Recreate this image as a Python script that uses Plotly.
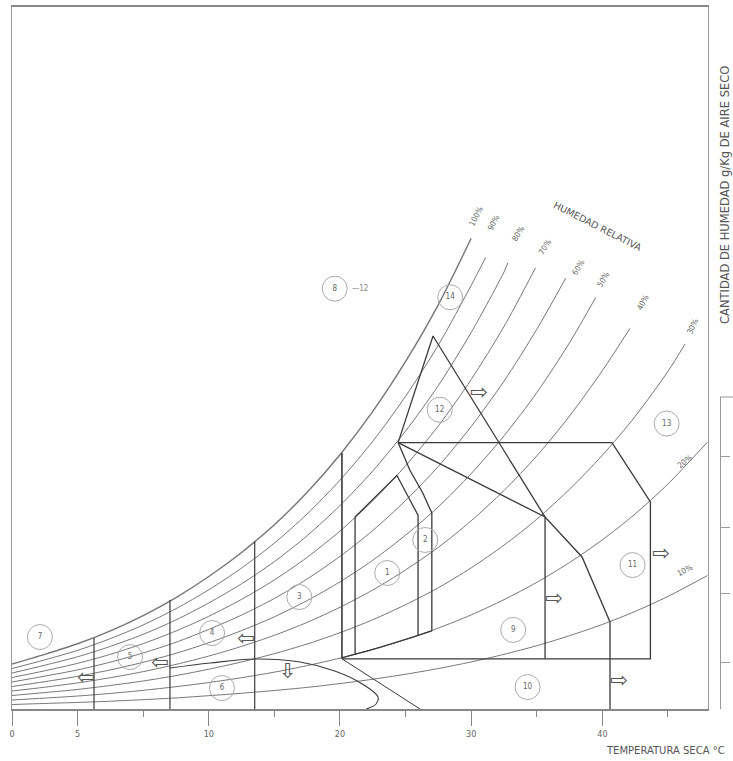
import plotly.graph_objects as go

# ---------------- data ----------------
T_GRID = [-5, -2.5, 0, 2.5, 5, 7.5, 10, 12.5, 15, 17.5, 20, 22.5, 25, 27.5,
          30, 32.5, 35, 37.5, 40, 42.5, 45, 48]

W_RH100 = [2.60, 3.16, 3.77, 4.52, 5.40, 6.44, 7.66, 9.05, 10.65, 12.53, 14.70, 17.20, 20.09, 23.38, 27.21]
W_RH90 = [2.34, 2.84, 3.39, 4.07, 4.86, 5.80, 6.89, 8.15, 9.59, 11.28, 13.23, 15.48, 18.08, 21.04, 24.49, 26.10]
W_RH80 = [2.08, 2.53, 3.02, 3.62, 4.32, 5.15, 6.13, 7.24, 8.52, 10.02, 11.76, 13.76, 16.07, 18.70, 21.77, 25.26, 25.80]
W_RH70 = [1.82, 2.21, 2.64, 3.16, 3.78, 4.51, 5.36, 6.34, 7.46, 8.77, 10.29, 12.04, 14.06, 16.37, 19.05, 22.11, 25.50]
W_RH60 = [1.56, 1.90, 2.26, 2.71, 3.24, 3.86, 4.60, 5.43, 6.39, 7.52, 8.82, 10.32, 12.05, 14.03, 16.33, 18.95, 21.95, 24.90]
W_RH50 = [1.30, 1.58, 1.89, 2.26, 2.70, 3.22, 3.83, 4.53, 5.33, 6.27, 7.35, 8.60, 10.05, 11.69, 13.61, 15.79, 18.29, 21.18, 23.80]
W_RH40 = [1.04, 1.26, 1.51, 1.81, 2.16, 2.58, 3.06, 3.62, 4.26, 5.01, 5.88, 6.88, 8.04, 9.35, 10.88, 12.63, 14.63, 16.94, 19.56, 22.00]
W_RH30 = [0.78, 0.95, 1.13, 1.36, 1.62, 1.93, 2.30, 2.72, 3.20, 3.76, 4.41, 5.16, 6.03, 7.01, 8.16, 9.47, 10.97, 12.71, 14.67, 16.92, 19.52, 21.10]
W_RH20 = [0.52, 0.63, 0.75, 0.90, 1.08, 1.29, 1.53, 1.81, 2.13, 2.51, 2.94, 3.44, 4.02, 4.68, 5.44, 6.32, 7.32, 8.47, 9.78, 11.28, 13.01, 15.42]
W_RH10 = [0.26, 0.32, 0.38, 0.45, 0.54, 0.64, 0.77, 0.91, 1.07, 1.25, 1.47, 1.72, 2.01, 2.34, 2.72, 3.16, 3.66, 4.24, 4.89, 5.64, 6.51, 7.71]
# temperature where each curve stops at the top
T_END = {"90%": 31.1, "80%": 32.8, "70%": 34.9, "60%": 37.2, "50%": 39.5, "40%": 42.1, "30%": 46.3}

RH_LABELS = ["100%", "90%", "80%", "70%", "60%", "50%", "40%", "30%", "20%", "10%"]
RH_LABEL_T = [30.44, 31.75, 33.6, 35.6, 38.2, 40.1, 43.1, 46.9, 46.3, 46.3]
RH_LABEL_W = [28.5, 28.1, 27.5, 26.7, 25.5, 24.8, 23.5, 22.1, 14.3, 8.0]
RH_LABEL_ANGLE = [-63, -62, -60, -58, -59, -60, -62, -65, -38, -28]

# vertical zone limits
VLINE_T = [1.25, 7.04, 13.5, 20.15]
VLINE_TOP = [4.1, 6.3, 9.7, 14.8]
VLINE_BOTTOM = [0.0, 0.0, 0.0, 2.9]

ZONE1_T = [21.15, 21.15, 24.34, 25.95, 25.95]
ZONE1_W = [3.12, 11.1, 13.5, 11.2, 4.26]
ZONE2_T = [24.43, 25.33, 26.3, 27.0, 27.0]
ZONE2_W = [15.4, 13.8, 12.5, 11.33, 4.52]
BASE20_T = [20.15, 22.5, 25.0, 27.0]
BASE20_W = [2.96, 3.44, 4.02, 4.52]
OUTER_T = [20.15, 43.66, 43.66, 40.73, 24.43]
OUTER_W = [2.9, 2.9, 11.97, 15.4, 15.4]
DIAG_T = [24.43, 35.63, 38.45, 40.58, 40.58]
DIAG_W = [15.4, 11.1, 8.79, 5.03, 0.0]
ZONE12_T = [24.43, 27.09, 35.63, 35.63]
ZONE12_W = [15.4, 21.56, 11.1, 2.9]
ZONE10_T = [20.15, 26.1]
ZONE10_W = [2.9, 0.0]
LENS_T = [7.04, 10.1, 13.5, 16.95, 19.6, 21.7, 22.9, 22.75, 22.0]
LENS_W = [2.37, 2.66, 2.89, 2.72, 2.2, 1.45, 0.69, 0.29, 0.0]

ZONE_LABEL = ["1", "2", "3", "4", "5", "6", "7", "8", "9", "10", "11", "12", "13", "14"]
ZONE_T = [23.6, 26.5, 16.9, 10.25, 4.0, 11.0, -2.87, 19.6, 33.2, 34.3, 42.3, 27.6, 44.9, 28.4]
ZONE_W = [7.86, 9.77, 6.47, 4.39, 3.0, 1.21, 4.16, 24.3, 4.57, 1.27, 8.32, 17.3, 16.5, 23.8]

ARROW_T = [0.65, 6.28, 12.84, 16.0, 30.6, 36.3, 44.5, 41.3]
ARROW_W = [1.85, 2.72, 4.1, 2.2, 18.3, 6.4, 9.0, 1.68]
ARROW_SYMBOL = ["⇦", "⇦", "⇦", "⇩", "⇨", "⇨", "⇨", "⇨"]

X_TICKVALS = [-5, 0, 10, 20, 30, 40]
X_TICKTEXT = ["0", "5", "10", "20", "30", "40"]
RIGHT_TICKS = [2.7, 6.7, 10.5, 14.6]

FONT = "DejaVu Sans Condensed, Liberation Sans Narrow, Liberation Sans, sans-serif"
CURVE = "#767676"
ZONE = "#3a3a3a"

fig = go.Figure()

curves = [("100%", W_RH100), ("90%", W_RH90), ("80%", W_RH80), ("70%", W_RH70),
          ("60%", W_RH60), ("50%", W_RH50), ("40%", W_RH40), ("30%", W_RH30),
          ("20%", W_RH20), ("10%", W_RH10)]
for name, w in curves:
    t = list(T_GRID[:len(w)])
    if name in T_END:
        t[-1] = T_END[name]
    fig.add_trace(go.Scatter(x=t, y=w, mode="lines",
                             line=dict(color=CURVE, width=1.4 if name == "100%" else 1, shape="spline", smoothing=0.8),
                             hoverinfo="skip", showlegend=False))


def zline(t, w, width=1.3, shape="linear"):
    fig.add_trace(go.Scatter(x=t, y=w, mode="lines", line=dict(color=ZONE, width=width, shape=shape),
                             hoverinfo="skip", showlegend=False))


for t, top, bot in zip(VLINE_T, VLINE_TOP, VLINE_BOTTOM):
    zline([t, t], [bot, top], width=1.6 if t > 20 else 1.2)
zline(ZONE1_T, ZONE1_W)
zline(ZONE2_T, ZONE2_W)
zline(BASE20_T, BASE20_W, shape="spline")
zline(OUTER_T, OUTER_W)
zline(DIAG_T, DIAG_W)
zline(ZONE12_T, ZONE12_W)
zline(ZONE10_T, ZONE10_W, width=1.0)
zline(LENS_T, LENS_W, width=1.1, shape="spline")

fig.add_trace(go.Scatter(x=ZONE_T, y=ZONE_W, mode="markers+text", text=ZONE_LABEL,
                         textposition="middle center",
                         textfont=dict(family=FONT, size=8, color="#666"),
                         marker=dict(symbol="circle-open", size=25, color="#aaa", line=dict(width=1, color="#aaa")),
                         hoverinfo="skip", showlegend=False))

ann = []
for s, t, w in zip(ARROW_SYMBOL, ARROW_T, ARROW_W):
    ann.append(dict(x=t, y=w, text=s, showarrow=False, font=dict(family="DejaVu Sans", size=21, color="#555")))
for s, t, w, a in zip(RH_LABELS, RH_LABEL_T, RH_LABEL_W, RH_LABEL_ANGLE):
    ann.append(dict(x=t, y=w, text=s, showarrow=False, textangle=a, font=dict(family=FONT, size=8, color="#666")))
ann.append(dict(x=39.7, y=27.9, text="HUMEDAD RELATIVA", showarrow=False, textangle=27,
                xanchor="center", yanchor="middle",
                font=dict(family="DejaVu Sans, sans-serif", size=9.5, color="#555")))
ann.append(dict(x=21.5, y=24.3, text="—12", showarrow=False, font=dict(family=FONT, size=8, color="#888")))
ann.append(dict(xref="paper", yref="paper", x=(665 - 12) / 721, y=(709 - 750) / 702, text="TEMPERATURA SECA °C",
                xanchor="center", yanchor="middle",
                showarrow=False, font=dict(family="DejaVu Sans, sans-serif", size=10, color="#555")))
ann.append(dict(xref="paper", yref="paper", x=(725 - 12) / 721, y=(709 - 195) / 702, textangle=-90,
                xanchor="center", yanchor="middle",
                text="CANTIDAD DE HUMEDAD g/Kg DE AIRE SECO", showarrow=False,
                font=dict(family="DejaVu Sans, sans-serif", size=11.5, color="#555")))

# helper trace so the right-hand humidity scale is drawn
fig.add_trace(go.Scatter(x=[None], y=[None], yaxis="y2", showlegend=False, hoverinfo="skip"))

fig.update_layout(
    width=733, height=761,
    margin=dict(l=12, r=0, t=7, b=52),
    paper_bgcolor="white", plot_bgcolor="rgba(0,0,0,0)",
    showlegend=False,
    xaxis=dict(domain=[0, 696 / 721], range=[-5, 48.05], showline=True, mirror=True,
               linecolor="#888", linewidth=1.5, showgrid=False, zeroline=False,
               ticks="outside", tickvals=X_TICKVALS, ticktext=X_TICKTEXT, ticklen=15,
               tickcolor="#888", tickfont=dict(family=FONT, size=9, color="#666"),
               minor=dict(ticks="outside", tick0=-5, dtick=5, ticklen=6, tickcolor="#888")),
    yaxis=dict(range=[0, 40.58], showline=True, mirror=True, linecolor="#999", linewidth=1,
               showgrid=False, zeroline=False, showticklabels=False, ticks=""),
    yaxis2=dict(domain=[0, 312 / 702], range=[0, 18.03], anchor="free", position=708 / 721,
                side="right", showline=True, linecolor="#999", linewidth=1, ticks="outside",
                tickvals=RIGHT_TICKS, ticklen=9, tickcolor="#999", showticklabels=False,
                showgrid=False, zeroline=False),
    annotations=ann,
    shapes=[dict(type="line", xref="paper", yref="y2 domain", x0=708 / 721, x1=1.0, y0=1, y1=1,
                 line=dict(color="#999", width=1))],
)

fig.write_html("out.html", config={"displayModeBar": False},
               post_script="document.body.style.margin='0';")
